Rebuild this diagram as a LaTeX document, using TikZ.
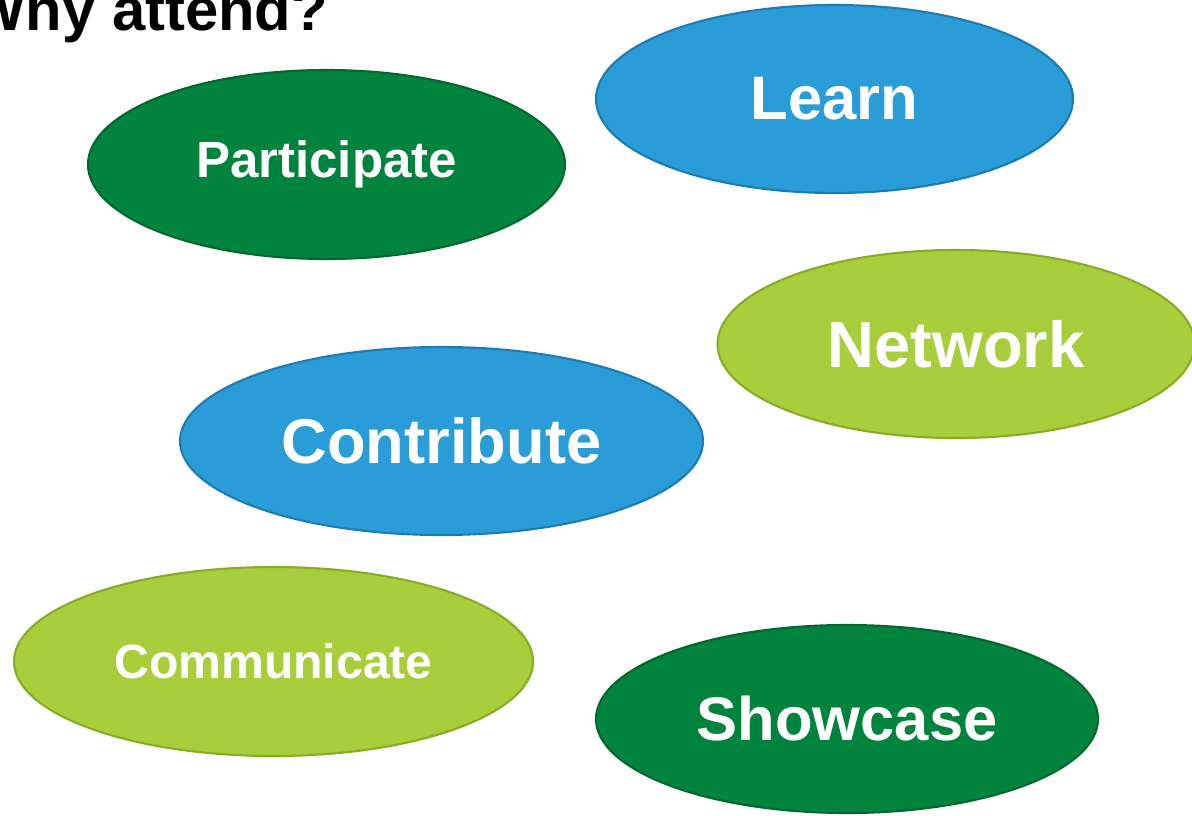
\documentclass[tikz,border=0pt]{standalone}
\usepackage{fontspec}
\setmainfont{Liberation Sans}
\usetikzlibrary{shapes.geometric}
\definecolor{dgreen}{RGB}{0,132,61}
\definecolor{dgreenline}{RGB}{0,104,48}
\definecolor{sky}{RGB}{42,156,216}
\definecolor{skyline}{RGB}{30,124,180}
\definecolor{lime}{RGB}{168,207,59}
\definecolor{limeline}{RGB}{136,172,40}
\tikzset{
  bubble/.style={ellipse, line width=1.2pt, text=white, font=\bfseries, inner sep=0pt},
  greenbubble/.style={bubble, fill=dgreen, draw=dgreenline},
  bluebubble/.style={bubble, fill=sky, draw=skyline},
  limebubble/.style={bubble, fill=lime, draw=limeline}
}
\begin{document}
\begin{tikzpicture}[scale=1]
\useasboundingbox (0,0) rectangle (23.84,-16.3);
\clip (0,0) rectangle (23.84,-16.3);
% title
\node [anchor=base west, inner sep=0pt, font=\fontsize{34}{41}\selectfont\bfseries] (title) at (-0.62,-0.6) {Why attend?};
% bubbles
\node [greenbubble, minimum width=9.54cm, minimum height=3.78cm, font=\fontsize{29}{35}\selectfont\bfseries] (participate) at (6.53,-3.29) {Participate};
\node [bluebubble, minimum width=9.54cm, minimum height=3.76cm, font=\fontsize{35}{42}\selectfont\bfseries] (learn) at (16.69,-1.98) {Learn};
\node [limebubble, minimum width=9.54cm, minimum height=3.76cm, font=\fontsize{37}{44}\selectfont\bfseries] (network) at (19.12,-6.88) {Network};
\node [bluebubble, minimum width=10.46cm, minimum height=3.76cm, font=\fontsize{36}{43}\selectfont\bfseries] (contribute) at (8.83,-8.82) {Contribute};
\node [limebubble, minimum width=10.38cm, minimum height=3.78cm, font=\fontsize{27.4}{33}\selectfont\bfseries] (communicate) at (5.47,-13.23) {Communicate};
\node [greenbubble, minimum width=10.04cm, minimum height=3.76cm, font=\fontsize{35}{42}\selectfont\bfseries] (showcase) at (16.94,-14.38) {Showcase};
\end{tikzpicture}
\end{document}
